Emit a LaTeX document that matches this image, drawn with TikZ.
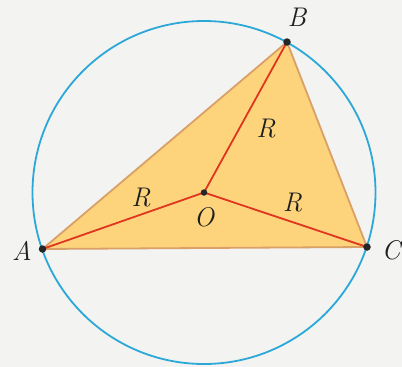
\documentclass[tikz,border=0pt]{standalone}
\definecolor{bgc}{HTML}{F3F3F2}
\definecolor{fillc}{HTML}{FDD47C}
\definecolor{edgec}{HTML}{D9A067}
\definecolor{radc}{HTML}{E0351F}
\definecolor{circc}{HTML}{2BA8D8}
\begin{document}
\begin{tikzpicture}[x=1pt,y=-1pt,
  lbl/.style={inner sep=0pt,text=black!88,font=\fontsize{27}{31}\selectfont\itshape},
  vdot/.style={circle,fill=black!85,inner sep=0pt,minimum size=7.5pt},
  radius line/.style={draw=radc,line width=1.8pt},
  tri/.style={fill=fillc,draw=edgec,line width=1.8pt,line join=round}]
\fill[bgc] (0,0) rectangle (402,367);
\useasboundingbox (0,0) rectangle (402,367);
\coordinate (O) at (204,192.5);
\coordinate (A) at (42.5,249);
\coordinate (B) at (287,42);
\coordinate (C) at (367,247);
\draw[circc,line width=1.8pt] (O) circle[radius=171.5];
\path[tri] (A) -- (B) -- (C) -- cycle;
\draw[radius line] (A) -- (O) -- (B) (O) -- (C);
\node[vdot] (dA) at (A) {};
\node[vdot] (dB) at (B) {};
\node[vdot] (dC) at (C) {};
\node[vdot,minimum size=6.5pt] (dO) at (O) {};
\node[lbl] (lA) at (22,250.5) {A};
\node[lbl] (lB) at (297,17) {B};
\node[lbl] (lC) at (391,250.5) {C};
\node[lbl] (lO) at (204,217) {O};
\node[lbl] (r1) at (141,197.5) {R};
\node[lbl] (r2) at (266,129) {R};
\node[lbl] (r3) at (292.5,203) {R};
\end{tikzpicture}
\end{document}
